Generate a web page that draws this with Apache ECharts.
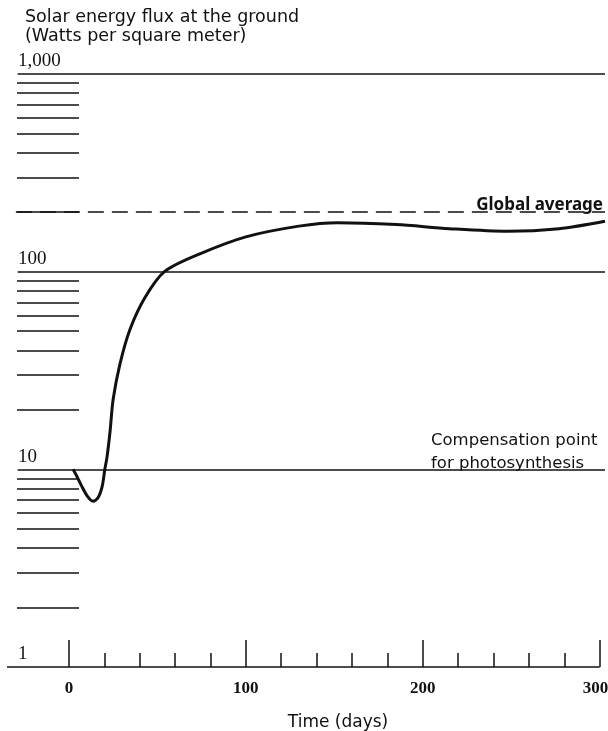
<!DOCTYPE html>
<html lang="en">
<head>
    <meta charset="UTF-8">
    <title>Solar energy flux</title>
    <script src="https://cdn.jsdelivr.net/npm/echarts@6/dist/echarts.min.js"></script>
    <style>
        html, body { margin: 0; height: 100%; background: #fff; }
        #main { width: 608px; height: 731px; }
    </style>
</head>
<body>
<div id="main"></div>
<script type="text/javascript">
// curve (days, W/m2)
var days = [2.3, 4, 7, 10.5, 13.6, 16.5, 18.8, 20.3, 21.5, 23.2, 25, 28.8, 34.5, 43, 54, 74, 100, 130, 152, 185, 215, 248, 277, 303];
var flux = [10, 9.4, 8.3, 7.3, 6.9, 7.2, 8.2, 10, 11.5, 15.4, 22.6, 34, 51, 74, 100, 123, 150, 170, 177, 173, 165, 160, 165, 180];

var xMajor = [0, 100, 200, 300];
var xMinor = [20, 40, 60, 80, 120, 140, 160, 180, 220, 240, 260, 280];
var yMinor = [2, 3, 4, 5, 6, 7, 8, 9, 20, 30, 40, 50, 60, 70, 80, 90, 200, 300, 400, 500, 600, 700, 800, 900];
var yMajor = [10, 100, 1000];
var globalAverage = 200;

var ink = '#111';
var chart = echarts.init(document.getElementById('main'));

var option = {
    backgroundColor: '#fff',
    animation: false,
    title: {
        text: 'Solar energy flux at the ground\n(Watts per square meter)',
        left: 20,
        top: 3,
        textStyle: { fontFamily: 'DejaVu Sans', fontSize: 17.5, fontWeight: 'normal', color: ink, lineHeight: 19 }
    },
    grid: { left: 7, right: 3, top: 74, bottom: 64, containLabel: false, outerBoundsMode: 'none' },
    xAxis: [
        {
            type: 'value', min: -35, max: 303,
            axisLine: { show: false },
            splitLine: { show: false },
            axisTick: { customValues: xMajor, inside: true, length: 27, lineStyle: { color: ink, width: 1.5 } },
            axisLabel: {
                customValues: xMajor, margin: 13, fontFamily: 'Liberation Serif', fontSize: 17, fontWeight: 'bold', color: ink,
                formatter: function (v) { return v === 300 ? '300  ' : String(v); }
            },
            name: 'Time (days)',
            nameLocation: 'middle',
            nameGap: 47,
            nameTextStyle: { fontFamily: 'DejaVu Sans', fontSize: 17, color: ink, padding: [0, 0, 0, 64] }
        },
        {
            type: 'value', min: -35, max: 303, position: 'bottom',
            axisLine: { show: false },
            splitLine: { show: false },
            axisTick: { customValues: xMinor, inside: true, length: 14, lineStyle: { color: ink, width: 1.5 } },
            axisLabel: { show: false }
        }
    ],
    yAxis: [
        {
            type: 'log', logBase: 10, min: 1, max: 1000,
            axisLine: { show: false },
            axisTick: { show: false },
            splitLine: { show: false },
            axisLabel: {
                inside: true, margin: 11, verticalAlign: 'bottom', padding: [0, 0, 3, 0],
                fontFamily: 'Liberation Serif', fontSize: 19, color: ink,
                formatter: function (v) { return v === 1000 ? '1,000' : String(v); }
            }
        },
        {
            type: 'log', logBase: 10, min: 1, max: 1000, position: 'left', offset: -72,
            axisLine: { show: false },
            splitLine: { show: false },
            axisTick: { customValues: yMinor, inside: false, length: 62, lineStyle: { color: ink, width: 1.5 } },
            axisLabel: { show: false }
        }
    ],
    series: [
        {
            type: 'line',
            data: days.map(function (d, i) { return [d, flux[i]]; }),
            smooth: 0.3,
            symbol: 'none',
            lineStyle: { color: ink, width: 3 },
            markLine: {
                silent: true,
                symbol: 'none',
                label: { show: false },
                lineStyle: { color: ink, width: 1.5, type: 'solid' },
                data: yMajor.map(function (v) {
                    return [{ coord: [-29, v] }, { coord: [303, v] }];
                }).concat([
                    [{ coord: [-35, 1] }, { coord: [300, 1] }],
                    [{ coord: [-30, globalAverage], lineStyle: { type: [16, 8] } }, { coord: [303, globalAverage] }]
                ])
            }
        }
    ],
    graphic: [
        {
            type: 'text', right: 5, top: 197,
            style: { text: 'Global average', fontFamily: 'Noto Sans', fontSize: 17, fontWeight: 'bold', fill: ink }
        },
        {
            type: 'text', left: 431, top: 429,
            style: { text: 'Compensation point\nfor photosynthesis', fontFamily: 'DejaVu Sans', fontSize: 16.5, lineHeight: 23, fill: ink }
        }
    ]
};

chart.setOption(option);
</script>
</body>
</html>
